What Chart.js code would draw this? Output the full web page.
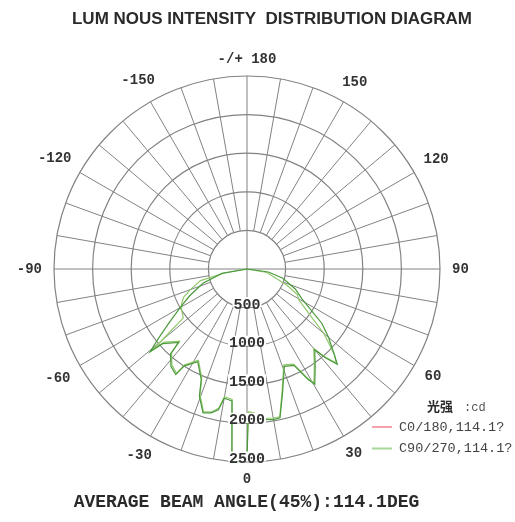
<!DOCTYPE html>
<html>
<head>
<meta charset="utf-8">
<title>Luminous intensity distribution diagram</title>
<script src="https://cdn.jsdelivr.net/npm/chart.js@4.4.0/dist/chart.umd.min.js"></script>
<style>
  html, body { margin: 0; padding: 0; background: #fff; }
  #wrap { width: 515px; height: 522px; position: relative; }
</style>
</head>
<body>
<div id="wrap"><canvas id="polarChart"></canvas></div>
<script>
// readings: angle in degrees (0 = straight down, + to the right), intensity in cd
const c0Angles = [-90, -80, -72, -65, -60, -55, -52, -49.5, -48.5, -43, -42, -38, -34, -33, -28, -22.5, -20.5, -17, -14, -11.5, -10, -8, -6.5, -4.5, -2, 0, 0.5, 3, 6, 10, 12.5, 16, 21, 26, 29, 30.5, 35, 40, 41.5, 43.5, 46, 50, 54, 61.5, 67.5, 75.5, 82, 90];
const c0Values = [0, 330, 600, 820, 1000, 1250, 1450, 1650, 1460, 1300, 1480, 1600, 1650, 1500, 1360, 1550, 1760, 1950, 1920, 1860, 1700, 1710, 1720, 2500, 2490, 2460, 1870, 1890, 1960, 1980, 1975, 1670, 1350, 1390, 1640, 1730, 1540, 1365, 1540, 1700, 1560, 1380, 1200, 810, 677, 480, 280, 0];

const c90Angles = [-90, -80, -76, -70, -66, -62, -58, -55, -52.5, -51, -50, -49.5, -48.5, -43, -42, -38, -34, -33, -28, -22.5, -20.5, -17, -14, -11.5, -10, -8, -6.5, -4.5, -2, 0, 0.5, 3, 6, 10, 12.5, 16, 21, 26, 29, 30.5, 35, 40, 41.5, 43.5, 45.5, 47.5, 50, 54, 59, 63, 68, 80, 90];
const c90Values = [0, 300, 620, 780, 900, 960, 1000, 1020, 1040, 1250, 1450, 1600, 1430, 1280, 1460, 1580, 1630, 1480, 1340, 1530, 1740, 1930, 1910, 1840, 1680, 1690, 1700, 2480, 2470, 2440, 1850, 1870, 1945, 1960, 1960, 1650, 1330, 1370, 1620, 1710, 1520, 1345, 1520, 1680, 1590, 1450, 1300, 1000, 790, 730, 560, 260, 0];

const angleTicks = [180, 150, 120, 90, 60, 30, 0, -30, -60, -90, -120, -150];
const intensityTicks = [500, 1000, 1500, 2000, 2500];
const seriesNames = ['C0/180,114.1?', 'C90/270,114.1?'];

const titleText = 'LUM NOUS INTENSITY  DISTRIBUTION DIAGRAM';
const footerText = 'AVERAGE BEAM ANGLE(45%):114.1DEG';
const unitName = '光强';
const unitText = ':cd';

// radar categories every half degree, clockwise from the top (180)
const STEP = 0.5;
const slotCount = 360 / STEP;
const slotAngles = [];
for (let i = 0; i < slotCount; i++) slotAngles.push(180 - i * STEP);

function angleToIndex(a) {
    return Math.round((180 - a) / STEP) % slotCount;
}

function toSlots(angles, values) {
    const slots = new Array(slotCount).fill(null);
    angles.forEach((a, i) => { slots[angleToIndex(a)] = values[i]; });
    return slots;
}

const GRID = '#828282';
const INK = '#2a2a2a';
const MONO = '"Liberation Mono", "DejaVu Sans Mono", monospace';

const polarDecor = {
    id: 'polarDecor',
    beforeDatasetsDraw(chart) {
        const scale = chart.scales.r;
        const ctx = chart.ctx;
        ctx.save();
        ctx.strokeStyle = GRID;
        ctx.lineWidth = 1;
        for (let a = 180; a > -180; a -= 10) {
            const idx = angleToIndex(a);
            const from = (a % 90 === 0) ? 0 : intensityTicks[0];
            const p1 = scale.getPointPositionForValue(idx, from);
            const p2 = scale.getPointPositionForValue(idx, scale.max);
            ctx.beginPath();
            ctx.moveTo(p1.x, p1.y);
            ctx.lineTo(p2.x, p2.y);
            ctx.stroke();
        }
        ctx.restore();
    },
    afterDraw(chart) {
        const scale = chart.scales.r;
        const ctx = chart.ctx;
        ctx.save();

        // intensity labels down the 0 axis
        ctx.font = 'bold 15px ' + MONO;
        ctx.textAlign = 'center';
        ctx.textBaseline = 'alphabetic';
        const downIdx = angleToIndex(0);
        intensityTicks.forEach(v => {
            const p = scale.getPointPositionForValue(downIdx, v);
            const txt = String(v);
            const w = ctx.measureText(txt).width;
            ctx.fillStyle = '#fff';
            ctx.fillRect(p.x - w / 2 - 1, p.y - 10.5, w + 2, 10);
            ctx.fillStyle = '#333';
            ctx.fillText(txt, p.x, p.y + 1);
        });

        // angle labels round the outside
        ctx.font = 'bold 14px ' + MONO;
        ctx.textBaseline = 'middle';
        ctx.fillStyle = '#333';
        angleTicks.forEach(a => {
            const txt = a === 180 ? '-/+ 180' : String(a);
            const w = ctx.measureText(txt).width;
            const rad = a * Math.PI / 180;
            const ext = Math.abs(Math.sin(rad)) * w / 2 + Math.abs(Math.cos(rad)) * 5;
            const p = scale.getPointPosition(angleToIndex(a), scale.drawingArea + 12 + ext);
            ctx.fillText(txt, p.x, p.y);
        });

        // title
        ctx.fillStyle = INK;
        ctx.font = 'bold 16px "Liberation Sans", Arial, sans-serif';
        ctx.textAlign = 'left';
        ctx.textBaseline = 'alphabetic';
        const tw = ctx.measureText(titleText).width;
        ctx.save();
        ctx.translate(72, 23.5);
        ctx.scale(400 / tw, 1);
        ctx.fillText(titleText, 0, 0);
        ctx.restore();

        // footer
        ctx.font = 'bold 18px ' + MONO;
        ctx.textAlign = 'center';
        ctx.fillText(footerText, 246.5, 507);

        // legend
        ctx.textAlign = 'left';
        ctx.font = 'bold 13px "Noto Sans CJK SC", sans-serif';
        ctx.fillText(unitName, 427, 411);
        ctx.font = '12px ' + MONO;
        ctx.fillStyle = '#555';
        ctx.fillText(unitText, 464, 411);
        const legendColors = ['#f2a3ab', '#a6d69a'];
        ctx.font = '13.5px ' + MONO;
        ctx.textBaseline = 'middle';
        seriesNames.forEach((name, i) => {
            const y = 427 + i * 21.5;
            ctx.strokeStyle = legendColors[i];
            ctx.lineWidth = 2;
            ctx.beginPath();
            ctx.moveTo(372, y);
            ctx.lineTo(392, y);
            ctx.stroke();
            ctx.fillStyle = '#444';
            ctx.fillText(name, 399, y);
        });

        ctx.restore();
    }
};

new Chart(document.getElementById('polarChart'), {
    type: 'radar',
    data: {
        labels: slotAngles,
        datasets: [
            {
                label: seriesNames[0],
                data: toSlots(c0Angles, c0Values),
                borderColor: '#4b9a3c',
                borderWidth: 1.2,
                fill: false,
                spanGaps: true
            },
            {
                label: seriesNames[1],
                data: toSlots(c90Angles, c90Values),
                borderColor: '#92c96e',
                borderWidth: 1.2,
                fill: false,
                spanGaps: true
            }
        ]
    },
    options: {
        responsive: true,
        maintainAspectRatio: false,
        animation: false,
        layout: { padding: { left: 54, right: 74, top: 76, bottom: 59 } },
        elements: { point: { radius: 0, hitRadius: 0 }, line: { tension: 0 } },
        plugins: {
            legend: { display: false },
            tooltip: { enabled: false }
        },
        scales: {
            r: {
                min: 0,
                max: 2500,
                startAngle: 0,
                ticks: { display: false, stepSize: 500 },
                grid: { circular: true, color: GRID, lineWidth: 1.2 },
                angleLines: { display: false },
                pointLabels: { display: false }
            }
        }
    },
    plugins: [polarDecor]
});
</script>
</body>
</html>
